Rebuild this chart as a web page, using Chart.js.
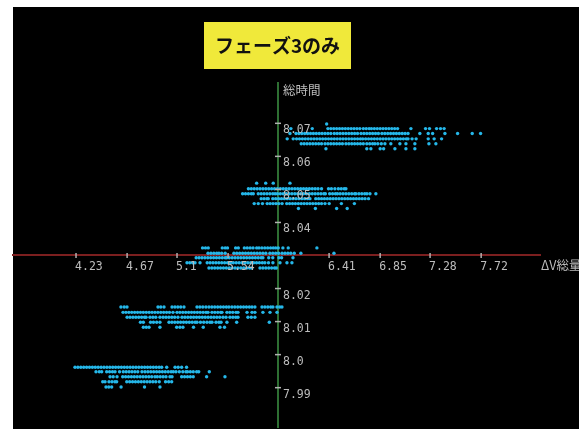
<!DOCTYPE html>
<html>
<head>
<meta charset="utf-8">
<script src="https://cdn.jsdelivr.net/npm/chart.js@4/dist/chart.umd.min.js"></script>
<style>
  html, body { margin: 0; padding: 0; background: #ffffff; }
  canvas { display: block; }
</style>
</head>
<body>
<canvas id="c" width="579" height="432"></canvas>
<script>
// ΔV総量 (x) vs 総時間 (y), phase 3 runs only.
const titleText = 'フェーズ3のみ';
const xAxisTitle = 'ΔV総量';
const yAxisTitle = '総時間';

// Tick values and their printed labels (the origin tick is left unlabeled).
const xTicks = [4.23, 4.67, 5.1, 5.54, 5.97, 6.41, 6.85, 7.28, 7.72];
const xTickLabels = ['4.23', '4.67', '5.1', '5.54', '', '6.41', '6.85', '7.28', '7.72'];
const yTicks = [7.99, 8.0, 8.01, 8.02, 8.03, 8.04, 8.05, 8.06, 8.07];
const yTickLabels = ['7.99', '8.0', '8.01', '8.02', '', '8.04', '8.05', '8.06', '8.07'];

// Axes cross at this point.
const originX = 5.97;
const originY = 8.03;

// Each group: the 総時間 value of every row, and the ΔV総量 values in that row.
const levelsA = [8.0698, 8.0684, 8.0669, 8.0653, 8.0638, 8.0623];
const runsA = [
  [6.389],
  [6.081, 6.265, 6.400, 6.425, 6.450, 6.475, 6.500, 6.525, 6.550, 6.575, 6.600, 6.625, 6.650, 6.675,
   6.705, 6.730, 6.755, 6.775, 6.800, 6.825, 6.850, 6.875, 6.900, 6.925, 6.950, 6.975, 7.000,
   7.115, 7.241, 7.275, 7.336, 7.370, 7.401],
  [6.073, 6.125, 6.150, 6.175, 6.200, 6.225, 6.250, 6.275, 6.300, 6.325, 6.350, 6.375, 6.400, 6.425,
   6.455, 6.480, 6.505, 6.530, 6.555, 6.580, 6.605, 6.630, 6.655, 6.685, 6.710, 6.735, 6.760, 6.785,
   6.810, 6.835, 6.865, 6.890, 6.915, 6.940, 6.965, 6.990, 7.015, 7.040, 7.065, 7.090,
   7.192, 7.264, 7.302, 7.408, 7.517, 7.643, 7.715],
  [6.049, 6.101, 6.130, 6.155, 6.180, 6.205, 6.230, 6.255, 6.280, 6.305, 6.330, 6.355, 6.380, 6.405,
   6.430, 6.455, 6.480, 6.505, 6.530, 6.555, 6.580, 6.605, 6.630, 6.655, 6.680, 6.700, 6.725, 6.750,
   6.775, 6.800, 6.825, 6.850, 6.875, 6.900, 6.925, 6.950, 6.975, 7.000, 7.025, 7.050, 7.075, 7.090,
   7.125, 7.160, 7.264, 7.315, 7.379],
  [6.170, 6.195, 6.220, 6.245, 6.270, 6.295, 6.320, 6.345, 6.375, 6.400, 6.425, 6.450, 6.475, 6.500,
   6.525, 6.555, 6.580, 6.605, 6.630, 6.655, 6.680, 6.705, 6.735, 6.760, 6.785, 6.805, 6.830, 6.860,
   6.891, 6.942, 7.020, 7.072, 7.149, 7.270, 7.330],
  [6.383, 6.735, 6.770, 6.850, 6.880, 6.977, 7.072, 7.149]
];

const levelsB = [8.0519, 8.0502, 8.0487, 8.0472, 8.0457, 8.0442];
const runsB = [
  [5.786, 5.864, 5.929, 6.073],
  [5.715, 5.740, 5.765, 5.790, 5.815, 5.840, 5.865, 5.890, 5.915, 5.940, 5.965, 5.990, 6.015, 6.040,
   6.065, 6.090, 6.115, 6.140, 6.165, 6.190, 6.215, 6.240, 6.265, 6.290, 6.315, 6.345,
   6.405, 6.430, 6.460, 6.490, 6.515, 6.540, 6.555],
  [5.665, 5.690, 5.715, 5.740, 5.757, 5.800, 5.825, 5.850, 5.875, 5.900, 5.925, 5.945, 5.965, 5.990,
   6.015, 6.040, 6.065, 6.090, 6.115, 6.140, 6.165, 6.190, 6.215, 6.240, 6.265, 6.290, 6.315, 6.340,
   6.365, 6.378, 6.415, 6.440, 6.465, 6.482, 6.505, 6.530, 6.555, 6.580, 6.605, 6.630, 6.641,
   6.667, 6.692, 6.717, 6.736, 6.762, 6.813],
  [5.825, 5.850, 5.875, 5.886, 5.925, 5.950, 5.975, 6.000, 6.025, 6.050, 6.075, 6.100, 6.125, 6.150,
   6.175, 6.200, 6.225, 6.245, 6.295, 6.320, 6.345, 6.370, 6.395, 6.420, 6.445, 6.470, 6.495, 6.520,
   6.545, 6.570, 6.595, 6.620, 6.645, 6.670, 6.695, 6.720, 6.750],
  [5.765, 5.800, 5.836, 5.877, 5.902, 5.927, 5.952, 5.977, 6.005, 6.045, 6.070, 6.095, 6.120, 6.145,
   6.170, 6.195, 6.220, 6.245, 6.270, 6.295, 6.320, 6.345, 6.375, 6.411, 6.516, 6.628],
  [6.146, 6.292, 6.475, 6.566]
];

const levelsC = [8.0323, 8.0307, 8.0293, 8.0278, 8.0262];
const runsC = [
  [5.320, 5.345, 5.369, 5.490, 5.515, 5.535, 5.605, 5.628, 5.680, 5.705, 5.730, 5.755, 5.786,
   5.806, 5.831, 5.856, 5.881, 5.906, 5.929, 5.950, 5.972, 6.012, 6.058, 6.305],
  [5.367, 5.392, 5.417, 5.442, 5.461, 5.485, 5.515, 5.590, 5.615, 5.640, 5.665, 5.690, 5.715, 5.740,
   5.765, 5.790, 5.815, 5.840, 5.865, 5.900, 5.925, 5.950, 5.975, 6.005, 6.030, 6.055, 6.080, 6.110,
   6.167, 6.452],
  [5.265, 5.290, 5.315, 5.340, 5.365, 5.390, 5.415, 5.440, 5.465, 5.490, 5.515, 5.528, 5.550, 5.575,
   5.600, 5.625, 5.650, 5.675, 5.700, 5.725, 5.750, 5.775, 5.800, 5.825, 5.840, 5.890, 5.925,
   5.978, 6.001, 6.099],
  [5.186, 5.210, 5.235, 5.255, 5.298, 5.360, 5.385, 5.410, 5.435, 5.460, 5.485, 5.510, 5.535, 5.560,
   5.585, 5.610, 5.635, 5.660, 5.685, 5.710, 5.735, 5.760, 5.785, 5.810, 5.835, 5.857, 5.888, 5.926,
   5.987, 6.047, 6.090],
  [5.375, 5.400, 5.425, 5.450, 5.475, 5.500, 5.525, 5.550, 5.575, 5.600, 5.625, 5.650, 5.675, 5.700,
   5.725, 5.745, 5.815, 5.840, 5.865, 5.890, 5.915, 5.940, 5.955]
];

const levelsD = [8.0144, 8.0128, 8.0113, 8.0098, 8.0083];
const runsD = [
  [4.617, 4.645, 4.669, 4.936, 4.960, 4.988, 5.057, 5.082, 5.107, 5.132, 5.160, 5.272, 5.297, 5.322,
   5.349, 5.375, 5.400, 5.425, 5.450, 5.475, 5.500, 5.525, 5.547, 5.573, 5.598, 5.623, 5.648, 5.673,
   5.698, 5.723, 5.746, 5.771, 5.832, 5.857, 5.882, 5.907, 5.926, 5.961, 5.985, 6.004],
  [4.635, 4.660, 4.685, 4.710, 4.735, 4.760, 4.785, 4.810, 4.835, 4.860, 4.885, 4.910, 4.935, 4.960,
   4.985, 5.010, 5.035, 5.065, 5.100, 5.125, 5.150, 5.175, 5.200, 5.225, 5.250, 5.275, 5.300, 5.325,
   5.350, 5.367, 5.401, 5.426, 5.451, 5.476, 5.487, 5.530, 5.555, 5.580, 5.608, 5.625, 5.703, 5.746,
   5.771, 5.840, 5.901, 5.961],
  [4.670, 4.695, 4.720, 4.745, 4.770, 4.795, 4.820, 4.833, 4.867, 4.892, 4.917, 4.953, 4.980, 5.005,
   5.030, 5.055, 5.080, 5.108, 5.143, 5.168, 5.193, 5.218, 5.243, 5.268, 5.293, 5.318, 5.343, 5.368,
   5.393, 5.418, 5.443, 5.468, 5.496, 5.522, 5.556, 5.581, 5.606, 5.625, 5.711, 5.740, 5.771],
  [4.785, 4.810, 4.872, 4.897, 4.925, 4.953, 5.031, 5.056, 5.081, 5.106, 5.131, 5.156, 5.181, 5.206,
   5.231, 5.256, 5.272, 5.302, 5.330, 5.358, 5.384, 5.401, 5.436, 5.461, 5.479, 5.530, 5.614, 5.895],
  [4.810, 4.835, 4.859, 4.953, 5.097, 5.125, 5.151, 5.242, 5.326, 5.470, 5.509]
];

const levelsE = [7.9962, 7.9948, 7.9933, 7.9918, 7.9902];
const runsE = [
  [4.221, 4.246, 4.271, 4.296, 4.321, 4.346, 4.371, 4.396, 4.421, 4.446, 4.471, 4.496, 4.521, 4.546,
   4.571, 4.596, 4.621, 4.646, 4.671, 4.696, 4.721, 4.746, 4.771, 4.796, 4.821, 4.846, 4.871, 4.896,
   4.921, 4.946, 4.968, 5.011, 5.083, 5.110, 5.140, 5.182],
  [4.402, 4.430, 4.451, 4.494, 4.519, 4.544, 4.566, 4.605, 4.637, 4.662, 4.687, 4.712, 4.737, 4.762,
   4.798, 4.824, 4.849, 4.874, 4.899, 4.924, 4.949, 4.974, 4.999, 5.024, 5.049, 5.068, 5.091, 5.120,
   5.150, 5.177, 5.190, 5.215, 5.240, 5.269, 5.287, 5.378],
  [4.523, 4.550, 4.583, 4.632, 4.657, 4.682, 4.707, 4.732, 4.757, 4.782, 4.807, 4.832, 4.857, 4.882,
   4.910, 4.930, 4.955, 4.980, 5.005, 5.039, 5.057, 5.140, 5.165, 5.190, 5.215, 5.240, 5.355, 5.513],
  [4.460, 4.480, 4.514, 4.540, 4.565, 4.580, 4.667, 4.692, 4.717, 4.742, 4.767, 4.792, 4.817, 4.842,
   4.867, 4.892, 4.917, 4.947, 5.001, 5.028, 5.054],
  [4.488, 4.512, 4.537, 4.618, 4.820, 4.953]
];

// Flatten the rows into scatter points.
const groups = [[levelsA, runsA], [levelsB, runsB], [levelsC, runsC], [levelsD, runsD], [levelsE, runsE]];
const points = [];
groups.forEach(([levels, runs]) => {
  runs.forEach((row, i) => row.forEach(x => points.push({ x, y: levels[i] })));
});

const LABEL_COLOR = '#bdbdbd';
const TICK_COLOR = '#b0b0b0';

// Black plot panel and the yellow title box.
const panel = {
  id: 'panel',
  beforeDraw(chart) {
    const ctx = chart.ctx;
    ctx.save();
    ctx.fillStyle = '#ffffff';
    ctx.fillRect(0, 0, chart.width, chart.height);
    ctx.fillStyle = '#000000';
    ctx.fillRect(13, 7, chart.width - 13, 422);
    ctx.fillStyle = '#f0e93a';
    ctx.fillRect(204, 22, 147, 47);
    ctx.fillStyle = '#111111';
    ctx.font = 'bold 19px "Noto Sans CJK JP"';
    ctx.textAlign = 'center';
    ctx.textBaseline = 'middle';
    ctx.fillText(titleText, 277.5, 46);
    ctx.restore();
  }
};

// Tick marks and labels that sit beside the crossing axes.
const crossLabels = {
  id: 'crossLabels',
  afterDraw(chart) {
    const { ctx, scales: { x, y } } = chart;
    const ox = x.getPixelForValue(originX);
    const oy = y.getPixelForValue(originY);
    ctx.save();
    ctx.strokeStyle = TICK_COLOR;
    ctx.fillStyle = LABEL_COLOR;
    ctx.lineWidth = 1.5;
    ctx.font = '11.5px "DejaVu Sans Mono"';
    ctx.textAlign = 'left';
    ctx.textBaseline = 'alphabetic';
    xTicks.forEach((v, i) => {
      if (!xTickLabels[i]) return;
      const px = x.getPixelForValue(v);
      ctx.beginPath();
      ctx.moveTo(px, oy - 2.5);
      ctx.lineTo(px, oy + 2.5);
      ctx.stroke();
      ctx.fillText(xTickLabels[i], px - 1, oy + 14.5);
    });
    yTicks.forEach((v, i) => {
      if (!yTickLabels[i]) return;
      const py = y.getPixelForValue(v);
      ctx.beginPath();
      ctx.moveTo(ox - 3, py);
      ctx.lineTo(ox + 3, py);
      ctx.stroke();
      ctx.fillText(yTickLabels[i], ox + 5, py + 10);
    });
    ctx.font = '12.5px "Noto Sans CJK JP"';
    ctx.fillText(yAxisTitle, ox + 5, chart.chartArea.top + 11.5);
    ctx.fillText(xAxisTitle, chart.chartArea.right + 1, oy + 14.5);
    ctx.restore();
  }
};

new Chart(document.getElementById('c'), {
  type: 'scatter',
  data: {
    datasets: [{
      data: points,
      backgroundColor: '#25b7e9',
      borderWidth: 0,
      pointRadius: 1.7,
      pointHoverRadius: 1.7
    }]
  },
  options: {
    responsive: false,
    animation: false,
    events: [],
    layout: { padding: { left: 13, right: 39, top: 83, bottom: 5 } },
    plugins: {
      legend: { display: false },
      tooltip: { enabled: false },
      title: { display: false }
    },
    scales: {
      x: {
        type: 'linear',
        min: 3.687,
        max: 8.227,
        position: { y: originY },
        z: 1,
        grid: { display: false },
        border: { display: true, color: '#7c1f1f', width: 2 },
        ticks: { display: false },
        afterBuildTicks: s => { s.ticks = xTicks.map(v => ({ value: v })); }
      },
      y: {
        type: 'linear',
        min: 7.9781,
        max: 8.0822,
        position: { x: originX },
        z: 1,
        grid: { display: false },
        border: { display: true, color: '#2e6f33', width: 2 },
        ticks: { display: false },
        afterBuildTicks: s => { s.ticks = yTicks.map(v => ({ value: v })); }
      }
    }
  },
  plugins: [panel, crossLabels]
});
</script>
</body>
</html>
